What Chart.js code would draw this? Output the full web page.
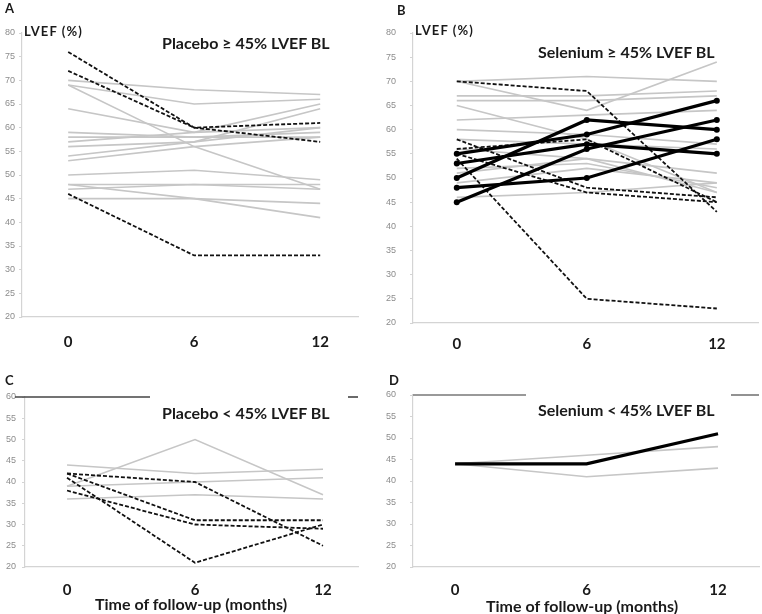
<!DOCTYPE html>
<html>
<head>
<meta charset="utf-8">
<script src="https://cdn.jsdelivr.net/npm/chart.js@4.4.1/dist/chart.umd.min.js"></script>
<style>
  body { margin: 0; background: #fff; }
  #page { position: relative; width: 762px; height: 614px; overflow: hidden; font-family: Lato, "Open Sans", sans-serif; color: #1a1a1a; }
  canvas { position: absolute; }
  .txt { position: absolute; font-weight: bold; line-height: 1; white-space: nowrap; }
  .letter { font-size: 13px; }
  .lvef { font-size: 13px; letter-spacing: 1.1px; }
  .title { font-size: 16px; }
  .xtitle { font-size: 16px; }
</style>
</head>
<body>
<div id="page">
  <canvas id="chartA" width="381" height="350" style="left:0;top:0"></canvas>
  <canvas id="chartB" width="381" height="350" style="left:381px;top:0"></canvas>
  <canvas id="chartC" width="381" height="264" style="left:0;top:350px"></canvas>
  <canvas id="chartD" width="381" height="264" style="left:381px;top:350px"></canvas>

  <div class="txt letter" style="left:5px;top:2px">A</div>
  <div class="txt lvef" style="left:24px;top:25px">LVEF (%)</div>
  <div class="txt title" style="left:162px;top:35px">Placebo ≥ 45% LVEF BL</div>

  <div class="txt letter" style="left:397px;top:4px">B</div>
  <div class="txt lvef" style="left:415px;top:24px">LVEF (%)</div>
  <div class="txt title" style="left:538px;top:44px">Selenium ≥ 45% LVEF BL</div>

  <div class="txt letter" style="left:5px;top:374px">C</div>
  <div class="txt title" style="left:162px;top:405px">Placebo &lt; 45% LVEF BL</div>
  <div class="txt xtitle" style="left:95px;top:596px">Time of follow-up (months)</div>

  <div class="txt letter" style="left:389px;top:374px">D</div>
  <div class="txt title" style="left:538px;top:402px">Selenium &lt; 45% LVEF BL</div>
  <div class="txt xtitle" style="left:486px;top:598px">Time of follow-up (months)</div>
</div>

<script>
// follow-up time points (months) and axis tick labels
const timepoints = [0, 6, 12];
const yTicksHigh = [20, 25, 30, 35, 40, 45, 50, 55, 60, 65, 70, 75, 80];
const yTicksLow = [20, 25, 30, 35, 40, 45, 50, 55, 60];

// A: placebo, baseline LVEF >= 45%
const placeboHighGray = [
  [70, 68, 67],
  [69, 65, 66],
  [69, 56, 47],
  [64, 59, 65],
  [59, 58, 59],
  [58, 58, 58],
  [57, 59, 60],
  [56, 57, 60],
  [54, 57, 64],
  [53, 56, 58],
  [50, 51, 49],
  [48, 48, 48],
  [48, 45, 41],
  [47, 48, 47],
  [45, 45, 44],
];
const placeboHighDashed = [
  [76, 60, 61],
  [72, 60, 57],
  [46, 33, 33],
];

// B: selenium, baseline LVEF >= 45%
const seleniumHighGray = [
  [70, 71, 70],
  [70, 64, 74],
  [67, 67, 68],
  [66, 66, 67],
  [65, 58, 47],
  [62, 63, 64],
  [60, 59, 57],
  [58, 57, 56],
  [56, 54, 51],
  [52, 53, 48],
  [51, 54, 47],
  [49, 52, 49],
  [46, 47, 49],
];
const seleniumHighDashed = [
  [70, 68, 43],
  [56, 58, 45],
  [58, 48, 46],
  [55, 47, 45],
  [54, 25, 23],
];
const seleniumHighBold = [
  [55, 59, 66],
  [53, 57, 55],
  [50, 62, 60],
  [48, 50, 58],
  [45, 56, 62],
];

// C: placebo, baseline LVEF < 45%
const placeboLowGray = [
  [44, 42, 43],
  [39, 50, 37],
  [39, 40, 41],
  [36, 37, 36],
];
const placeboLowDashed = [
  [42, 40, 25],
  [42, 31, 31],
  [41, 21, 30],
  [38, 30, 29],
];

// D: selenium, baseline LVEF < 45%
const seleniumLowGray = [
  [44, 46, 48],
  [44, 41, 43],
];
const seleniumLowBold = [
  [44, 44, 51],
];

const GRAY = "#c6c6c6";
const AXIS = "#d4d4d4";

function toPoints(values) {
  return values.map((v, i) => ({ x: timepoints[i], y: v }));
}

function buildDatasets(gray, dashed, bold, boldMarkers) {
  const sets = [];
  gray.forEach((s) => sets.push({
    data: toPoints(s), borderColor: GRAY, borderWidth: 1.6, pointRadius: 0, order: 3,
  }));
  dashed.forEach((s) => sets.push({
    data: toPoints(s), borderColor: "#111", borderWidth: 1.8, borderDash: [4, 2], pointRadius: 0, order: 2,
  }));
  bold.forEach((s) => sets.push({
    data: toPoints(s), borderColor: "#000", borderWidth: 3.2,
    pointRadius: boldMarkers ? 3 : 0, pointBackgroundColor: "#000", pointBorderWidth: 0, order: 1,
  }));
  return sets;
}

// dark rule along the top of the lower panels
const topRule = {
  id: "topRule",
  afterDraw(chart, args, opts) {
    if (!opts.segments) return;
    const ctx = chart.ctx;
    const y = chart.scales.y.getPixelForValue(chart.scales.y.max);
    ctx.save();
    ctx.strokeStyle = opts.color;
    ctx.lineWidth = 1.6;
    opts.segments.forEach(([a, b]) => {
      ctx.beginPath();
      ctx.moveTo(a, y);
      ctx.lineTo(b, y);
      ctx.stroke();
    });
    ctx.restore();
  },
};

function renderPanel(canvasId, cfg) {
  const ctx = document.getElementById(canvasId).getContext("2d");
  return new Chart(ctx, {
    type: "line",
    data: { datasets: buildDatasets(cfg.gray, cfg.dashed, cfg.bold, cfg.markers) },
    plugins: [topRule],
    options: {
      responsive: false,
      animation: false,
      layout: { padding: { top: cfg.top, right: cfg.right, left: 0, bottom: 0 } },
      plugins: {
        legend: { display: false },
        tooltip: { enabled: false },
        topRule: { segments: cfg.rule, color: cfg.ruleColor },
      },
      scales: {
        x: {
          type: "linear",
          min: cfg.xMin,
          max: cfg.xMax,
          afterBuildTicks: (scale) => { scale.ticks = timepoints.map((v) => ({ value: v })); },
          afterFit: (scale) => { scale.height = cfg.bottomH; },
          grid: { display: false, drawTicks: false },
          border: { display: true, color: AXIS, width: 1.2 },
          ticks: {
            padding: cfg.xPad,
            color: "#1a1a1a",
            font: { family: "Lato", size: 15, weight: "bold" },
          },
        },
        y: {
          type: "linear",
          min: cfg.yTicks[0],
          max: cfg.yTicks[cfg.yTicks.length - 1],
          afterBuildTicks: (scale) => { scale.ticks = cfg.yTicks.map((v) => ({ value: v })); },
          afterFit: (scale) => { scale.width = cfg.leftW; },
          grid: { display: true, drawOnChartArea: false, tickLength: 3, color: AXIS },
          border: { display: true, color: AXIS, width: 1.2 },
          ticks: {
            padding: cfg.yPad,
            color: "#8c8c8c",
            font: { family: "Liberation Sans", size: 9 },
          },
        },
      },
    },
  });
}

renderPanel("chartA", {
  gray: placeboHighGray, dashed: placeboHighDashed, bold: [], markers: false,
  yTicks: yTicksHigh, xMin: -2.2, xMax: 13.8,
  top: 33, right: 23, leftW: 22, bottomH: 33, xPad: 16, yPad: 4,
});

renderPanel("chartB", {
  gray: seleniumHighGray, dashed: seleniumHighDashed, bold: seleniumHighBold, markers: true,
  yTicks: yTicksHigh, xMin: -2.02, xMax: 13.9,
  top: 33, right: 3, leftW: 32, bottomH: 27, xPad: 12, yPad: 14,
});

renderPanel("chartC", {
  gray: placeboLowGray, dashed: placeboLowDashed, bold: [], markers: false,
  yTicks: yTicksLow, xMin: -1.97, xMax: 13.64,
  top: 47, right: 23, leftW: 25, bottomH: 47, xPad: 14, yPad: 6,
  rule: [[15, 150], [348, 358]], ruleColor: "#444",
});

renderPanel("chartD", {
  gray: seleniumLowGray, dashed: [], bold: seleniumLowBold, markers: false,
  yTicks: yTicksLow, xMin: -1.92, xMax: 13.87,
  top: 45, right: 3, leftW: 32, bottomH: 47, xPad: 14, yPad: 14,
  rule: [[32, 145], [350, 378]], ruleColor: "#777",
});
</script>
</body>
</html>
